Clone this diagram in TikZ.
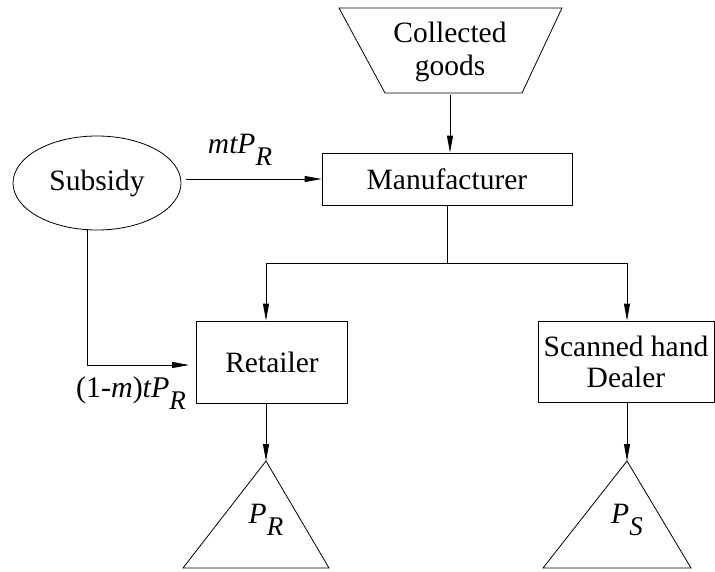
\documentclass[tikz,border=0pt]{standalone}
\usepackage{fontspec}
\setmainfont{Liberation Serif}
\usetikzlibrary{arrows.meta,shapes.geometric}
\newcommand{\subsc}[1]{\raisebox{-0.42em}{\fontsize{27}{27}\selectfont\itshape #1}}
\tikzset{
  every node/.style={font=\fontsize{29.5}{33}\selectfont},
  box/.style={draw, line width=0.8pt, rectangle, inner sep=0pt, align=center},
  conn/.style={line width=0.8pt},
  arr/.style={conn, -{Triangle[length=17pt,width=6pt]}},
  shp/.style={draw, line width=0.8pt}
}
\begin{document}
\begin{tikzpicture}[x=1pt,y=-1pt]
\useasboundingbox (0,0) rectangle (715,571);
% collected goods trapezoid
\draw[shp] (339,8) -- (562,8) -- (522,93) -- (385,93) -- cycle;
\node (cg) [inner sep=0pt, minimum width=137pt, minimum height=85pt, align=center] at (450,52) {Collected\\goods};
% manufacturer
\node (man) [box, minimum width=250pt, minimum height=52pt] at (447,179) {Manufacturer};
% subsidy
\node (sub) [draw, line width=0.8pt, ellipse, minimum width=168pt, minimum height=94pt, inner sep=0pt] at (97,183) {Subsidy};
% retailer
\node (ret) [box, minimum width=151pt, minimum height=82pt] at (272,362) {Retailer};
% dealer
\node (deal) [box, minimum width=176pt, minimum height=81pt] at (626,361.5) {Scanned hand\\[-2pt]Dealer};
% triangles
\draw[shp] (266,461) -- (329,568) -- (183,568) -- cycle;
\coordinate (tR) at (266,461);
\node (pr) [inner sep=0pt] at (266,520) {\itshape P\subsc{R}};
\draw[shp] (627,461) -- (691,568) -- (543,568) -- cycle;
\coordinate (tS) at (627,461);
\node (ps) [inner sep=0pt] at (627,520) {\itshape P\subsc{S}};
% connectors
\draw[arr] (cg.south) -- (cg.south |- man.north);
\draw[arr, shorten <=5pt] (sub.east |- man.west) -- (man.west);
\node (lab1) [inner sep=0pt] at (240,150) {\itshape mtP\subsc{R}};
\coordinate (br) at (447,263);
\coordinate (jl) at (266,263);
\coordinate (jr) at (627,263);
\draw[conn] (man.south) -- (br);
\draw[conn] (jl) -- (jr);
\draw[arr] (jl) -- (jl |- ret.north);
\draw[arr] (jr) -- (jr |- deal.north);
\coordinate (sd) at (87,229);
\draw[arr, shorten >=7pt] (sd) |- ([yshift=-3pt]ret.west);
\node (lab2) [inner sep=0pt, font=\fontsize{30}{33}\selectfont] at (131,393) {(1-\textit{m})\textit{tP}\subsc{R}};
\draw[arr] (tR |- ret.south) -- (tR);
\draw[arr] (tS |- deal.south) -- (tS);
\end{tikzpicture}
\end{document}
